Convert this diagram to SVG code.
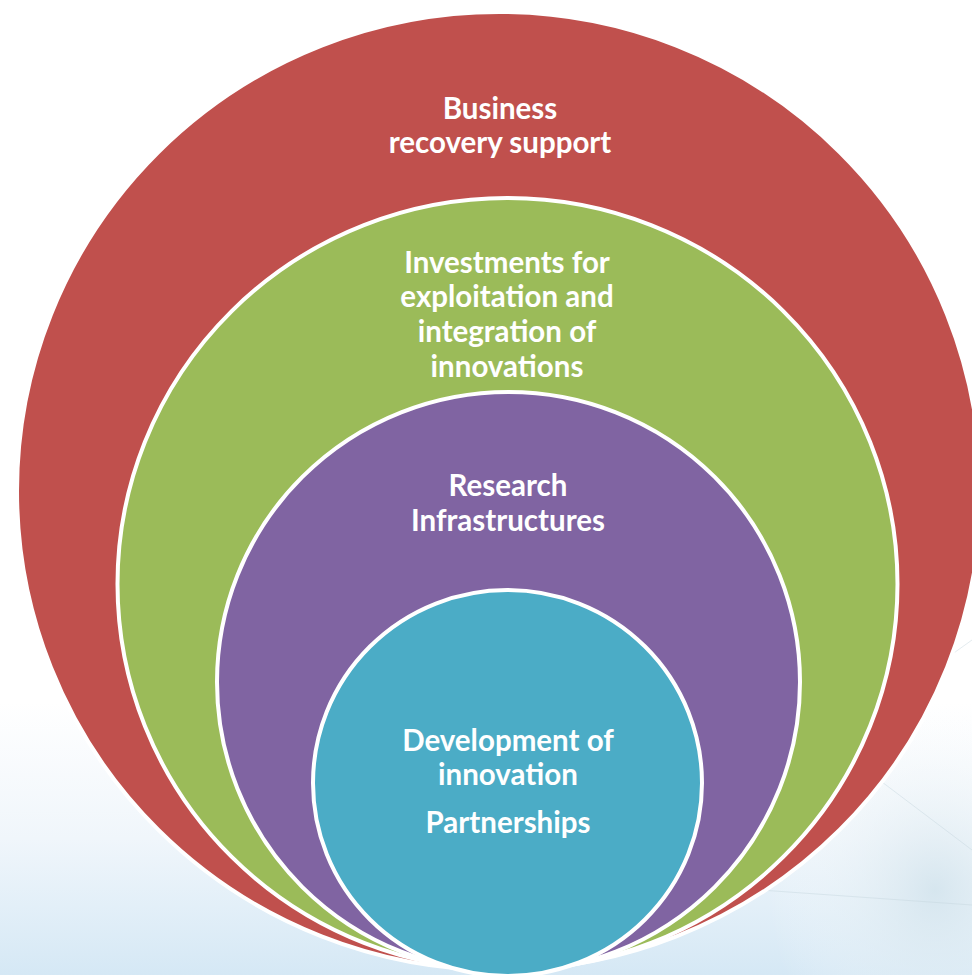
<svg xmlns="http://www.w3.org/2000/svg" width="972" height="975" viewBox="0 0 972 975">
<defs>
<linearGradient id="bg" x1="0" y1="0" x2="0" y2="1">
<stop offset="0" stop-color="#ffffff"/>
<stop offset="0.72" stop-color="#ffffff"/>
<stop offset="0.86" stop-color="#f0f6fb"/>
<stop offset="1" stop-color="#d5e8f5"/>
</linearGradient>
<radialGradient id="glow" cx="0.9" cy="0.8" r="0.45">
<stop offset="0" stop-color="#d2e3ec" stop-opacity="0.8"/>
<stop offset="1" stop-color="#ffffff" stop-opacity="0"/>
</radialGradient>
<style>
.ring{stroke:#ffffff;stroke-width:4}
.lbl{font-family:Lato,"Open Sans","Liberation Sans",sans-serif;font-weight:700;font-size:29.5px;fill:#ffffff;text-anchor:middle}
</style>
</defs>
<rect width="972" height="975" fill="url(#bg)"/>
<rect x="600" y="550" width="372" height="425" fill="url(#glow)"/>
<g stroke="#c5d6de" stroke-width="1" opacity="0.45" fill="none">
<path d="M800 720 L972 850"/>
<path d="M790 770 L972 640"/>
<path d="M760 890 L972 905"/>
</g>
<g id="business">
<ellipse class="ring" cx="499" cy="491" rx="482" ry="479" fill="#C0504D"/>
<text class="lbl" x="500" y="119">Business</text>
<text class="lbl" x="500" y="153">recovery support</text>
</g>
<g id="investments">
<ellipse class="ring" cx="507.5" cy="584" rx="390" ry="386" fill="#9BBB59"/>
<text class="lbl" x="507" y="273">Investments for</text>
<text class="lbl" x="507" y="307">exploitation and</text>
<text class="lbl" x="507" y="342">integration of</text>
<text class="lbl" x="507" y="377">innovations</text>
</g>
<g id="research">
<ellipse class="ring" cx="508.5" cy="682" rx="291.5" ry="290" fill="#8064A2"/>
<text class="lbl" x="508" y="496">Research</text>
<text class="lbl" x="508" y="531">Infrastructures</text>
</g>
<g id="development">
<ellipse class="ring" cx="507.5" cy="783" rx="194.5" ry="193" fill="#4BACC6"/>
<text class="lbl" x="508" y="751">Development of</text>
<text class="lbl" x="508" y="785">innovation</text>
<text class="lbl" x="508" y="833">Partnerships</text>
</g>
<g id="connectors"/>
</svg>
